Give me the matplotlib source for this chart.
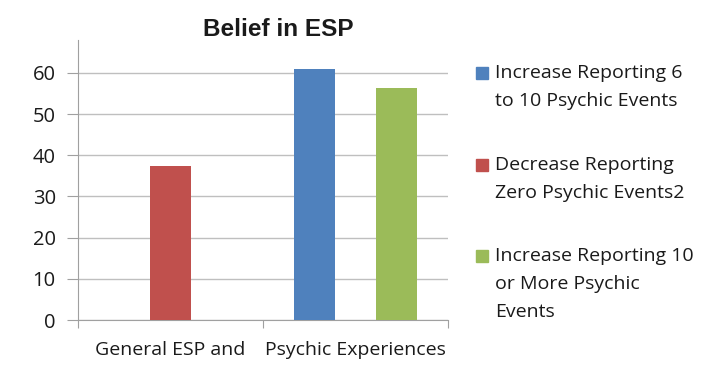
import matplotlib
matplotlib.use("Agg")
import matplotlib.pyplot as plt
from matplotlib.patches import Rectangle
import numpy as np

categories = ["General ESP and", "Psychic Experiences"]
series_names = ["Increase Reporting 6\nto 10 Psychic Events",
                "Decrease Reporting\nZero Psychic Events2",
                "Increase Reporting 10\nor More Psychic\nEvents"]
blue_vals = [0, 61.0]
red_vals = [37.3, 0]
green_vals = [0, 56.4]
colors = ["#4F81BD", "#C0504D", "#9BBB59"]
yticks = [0, 10, 20, 30, 40, 50, 60]

plt.rcParams['font.family'] = ['Open Sans', 'DejaVu Sans']

W, H = 712, 372
fig = plt.figure(figsize=(W/100, H/100), dpi=100)
ax = fig.add_axes([78/W, 52/H, 370/W, 280/H])

x = np.arange(len(categories))
w = 0.222
for i, (vals, c) in enumerate(zip([blue_vals, red_vals, green_vals], colors)):
    ax.bar(x + (i - 1) * w, vals, width=w, color=c, zorder=3)

ax.set_xlim(-0.5, 1.5)
ax.set_ylim(0, 68)
ax.set_yticks(yticks)
ax.set_yticklabels([str(t) for t in yticks], fontsize=14.5, color="#1a1a1a")
ax.yaxis.grid(True, color="#BFBFBF", linewidth=1, zorder=0)
ax.set_axisbelow(True)
for s in ["top", "right"]:
    ax.spines[s].set_visible(False)
ax.spines["left"].set_color("#A0A0A0")
ax.spines["bottom"].set_color("#A0A0A0")
ax.tick_params(axis="y", length=8, color="#A0A0A0", pad=8)
ax.set_xticks([-0.5, 0.5, 1.5])
ax.set_xticklabels([])
ax.tick_params(axis="x", length=6, color="#A0A0A0", direction="out")
ax.set_xticks(x, minor=True)
ax.set_xticklabels(categories, minor=True, fontsize=14, color="#1a1a1a")
ax.tick_params(axis="x", which="minor", length=0, pad=15)

fig.text(278/W, 1 - 30/H, "Belief in ESP", fontsize=17.5, fontweight="bold",
         family=["Liberation Sans", "DejaVu Sans"], ha="center", va="center", color="#1a1a1a")

# legend drawn manually: square aligned with the first line of each entry
first_line_y = [73, 165, 256]
for name, c, yc in zip(series_names, colors, first_line_y):
    fig.patches.append(Rectangle((476/W, 1 - (yc + 6)/H), 12/W, 12/H,
                                 transform=fig.transFigure, color=c))
    fig.text(495/W, 1 - (yc - 9)/H, name, fontsize=14, color="#1a1a1a",
             ha="left", va="top", linespacing=1.7)

fig.savefig("out.png", dpi=100)
